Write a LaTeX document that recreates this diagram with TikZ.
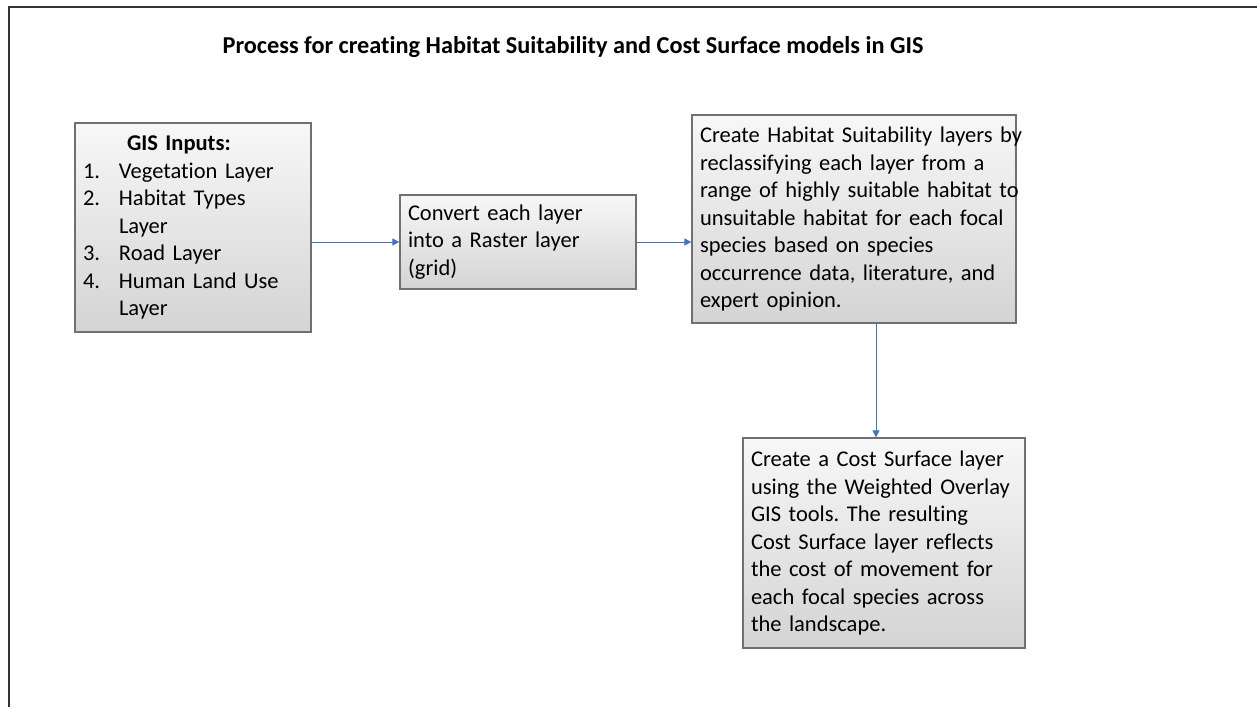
\documentclass[tikz,border=0pt]{standalone}
\usepackage{fontspec}
\setmainfont{Carlito}[Ligatures=NoCommon]
\usetikzlibrary{arrows.meta,shadows}
\definecolor{arrowblue}{RGB}{68,114,196}
\definecolor{boxedge}{RGB}{112,112,112}
\frenchspacing
\begin{document}
\begin{tikzpicture}[x=1pt,y=-1pt,
  procbox/.style={draw=boxedge, line width=1.3pt, rectangle, align=left,
    top color=white!97!black, bottom color=black!17,
    inner xsep=8pt, inner ysep=0pt,
    drop shadow={shadow xshift=1.2pt, shadow yshift=-1.2pt, opacity=0.3, fill=black},
    font=\fontsize{22.5}{27.5}\selectfont},
  flow/.style={draw=arrowblue, line width=1pt, -{Triangle[length=7pt,width=7pt]}},
  frameline/.style={draw=black!80, line width=2pt}]
\useasboundingbox (0,0) rectangle (1257,707);
\fill[white] (0,0) rectangle (1257,707);
\draw[frameline] (9,707) -- (9,7) -- (1257,7);

\node[anchor=base, font=\fontsize{24.3}{29}\selectfont\bfseries] (title) at (573,53)
  {Process for creating Habitat Suitability and Cost Surface models in GIS};

\node[procbox, text width=220pt, minimum height=209pt] (gis) at (193,227.5)
  {\hspace*{44pt}\textbf{GIS Inputs:}\\
   \makebox[36pt][l]{1.}Vegetation Layer\\
   \makebox[36pt][l]{2.}Habitat Types\\
   \hspace*{36pt}Layer\\
   \makebox[36pt][l]{3.}Road Layer\\
   \makebox[36pt][l]{4.}Human Land Use\\
   \hspace*{36pt}Layer};

\node[procbox, text width=220pt, minimum height=94pt] (conv) at (518,242)
  {Convert each layer\\into a Raster layer\\(grid)};

\node[procbox, text width=308pt, minimum height=208pt] (hab) at (854,219)
  {\mbox{Create Habitat Suitability layers by}\\
   \mbox{reclassifying each layer from a}\\
   \mbox{range of highly suitable habitat to}\\
   \mbox{unsuitable habitat for each focal}\\
   \mbox{species based on species}\\
   \mbox{occurrence data, literature, and}\\
   \mbox{expert opinion.}};

\node[procbox, text width=266pt, minimum height=210pt] (cost) at (884,543)
  {\mbox{Create a Cost Surface layer}\\
   \mbox{using the Weighted Overlay}\\
   \mbox{GIS tools. The resulting}\\
   \mbox{Cost Surface layer reflects}\\
   \mbox{the cost of movement for}\\
   \mbox{each focal species across}\\
   \mbox{the landscape.}};

\coordinate (vx) at (876,0);
\draw[flow] (gis.east |- conv.west) -- (conv.west);
\draw[flow] (conv.east) -- (conv.east -| hab.west);
\draw[flow] (hab.south -| vx) -- (cost.north -| vx);
\end{tikzpicture}
\end{document}
